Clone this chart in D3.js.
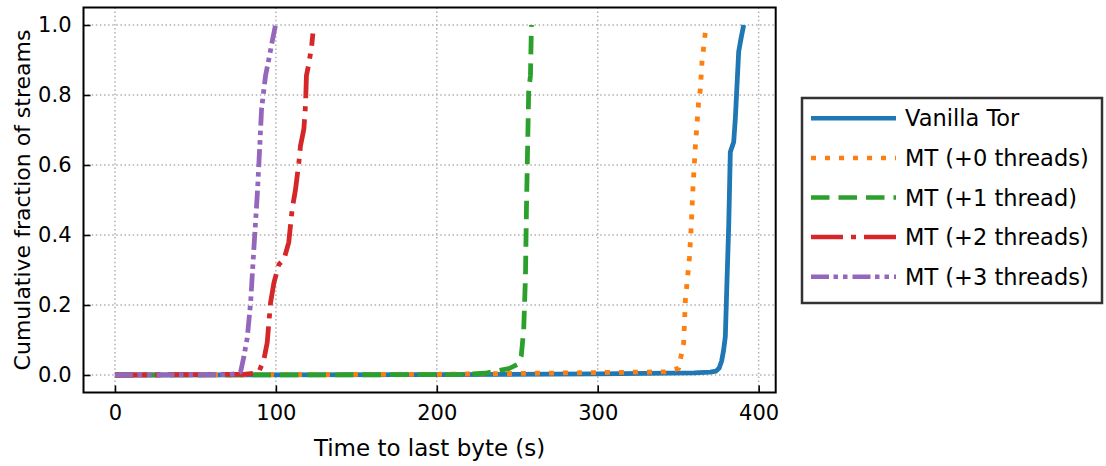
<!DOCTYPE html>
<html lang="en">
<head>
  <meta charset="UTF-8">
  <script src="https://d3js.org/d3.v7.min.js"></script>
  <title>TTLB CDF</title>
  <style>
    body { margin: 0; background: #fff; }
    text { font-family: "DejaVu Sans", sans-serif; fill: #000; }
  </style>
</head>
<body>
  <script>
    // series: time (s) and cumulative fraction
    const seriesNames = ["Vanilla Tor", "MT (+0 threads)", "MT (+1 thread)", "MT (+2 threads)", "MT (+3 threads)"];

    const vanillaTime = [0, 200, 300, 360, 370, 373.5, 375.5, 377, 378.2, 379.3, 380.3, 381.4, 382.4, 384.5, 385.5, 387.6, 389, 390.7];
    const vanillaFrac = [0, 0.001, 0.003, 0.006, 0.008, 0.011, 0.02, 0.04, 0.07, 0.11, 0.264, 0.426, 0.637, 0.666, 0.732, 0.924, 0.96, 1.0];

    const mt0Time = [0, 200, 300, 342, 350.3, 353.4, 354.5, 357, 358, 359.2, 360.7, 362.7, 363.8, 364.8, 366.9];
    const mt0Frac = [0, 0.002, 0.007, 0.009, 0.019, 0.092, 0.215, 0.336, 0.416, 0.537, 0.655, 0.78, 0.818, 0.895, 0.98];

    const mt1Time = [0, 215, 230, 237.5, 244.7, 250, 252.5, 254, 255.1, 255.7, 256.5, 257.1, 258.2, 258.8];
    const mt1Frac = [0, 0.001, 0.005, 0.012, 0.018, 0.03, 0.055, 0.129, 0.282, 0.473, 0.666, 0.81, 0.856, 1.0];

    const mt2Time = [0, 80, 86, 89.4, 92.5, 94.6, 96.7, 98.8, 101.9, 105, 108, 110.1, 112.2, 114.3, 115.3, 117.4, 118.4, 119, 120.5, 122.2, 123];
    const mt2Frac = [0, 0.002, 0.005, 0.009, 0.043, 0.092, 0.207, 0.264, 0.316, 0.33, 0.379, 0.473, 0.53, 0.608, 0.655, 0.703, 0.77, 0.856, 0.89, 0.938, 0.976];

    const mt3Time = [0, 70, 76, 78.1, 80.1, 82.2, 84.3, 86.3, 88.4, 89.9, 91.1, 93.6, 95.7, 97.7, 99.8];
    const mt3Frac = [0, 0.001, 0.004, 0.009, 0.052, 0.106, 0.207, 0.359, 0.512, 0.646, 0.76, 0.856, 0.904, 0.953, 1.0];

    const xTicks = [0, 100, 200, 300, 400];
    const yTicks = [0, 0.2, 0.4, 0.6, 0.8, 1.0];

    const colors = ["#1f77b4", "#ff7f0e", "#2ca02c", "#d62728", "#9467bd"];
    const dashes = [null, "5,9", "18.5,9", "32,8,5,8", "18,4.5,4.5,5,4.5,5"];

    const allTimes = [vanillaTime, mt0Time, mt1Time, mt2Time, mt3Time];
    const allFracs = [vanillaFrac, mt0Frac, mt1Frac, mt2Frac, mt3Frac];
    const series = seriesNames.map((name, i) => ({
      name,
      points: allTimes[i].map((t, j) => [t, allFracs[i][j]])
    }));

    const width = 1106, height = 466;
    const plot = { left: 83.5, right: 775.7, top: 7.5, bottom: 392.5 };

    const svg = d3.select("body").append("svg")
        .attr("width", width)
        .attr("height", height);

    /* Scales */
    const xScale = d3.scaleLinear().domain([-19.55, 410.6]).range([plot.left, plot.right]);
    const yScale = d3.scaleLinear().domain([-0.05, 1.05]).range([plot.bottom, plot.top]);

    // grid
    const grid = svg.append("g");
    grid.selectAll(".gx").data(xTicks).join("line")
        .attr("x1", d => xScale(d)).attr("x2", d => xScale(d))
        .attr("y1", plot.top).attr("y2", plot.bottom)
        .attr("stroke", "#b0b0b0").attr("stroke-width", 1.5).attr("stroke-dasharray", "1.5,2.6");
    grid.selectAll(".gy").data(yTicks).join("line")
        .attr("y1", d => yScale(d)).attr("y2", d => yScale(d))
        .attr("x1", plot.left).attr("x2", plot.right)
        .attr("stroke", "#b0b0b0").attr("stroke-width", 1.5).attr("stroke-dasharray", "1.5,2.6");

    // curves
    const line = d3.line().x(d => xScale(d[0])).y(d => yScale(d[1]));
    svg.append("defs").append("clipPath").attr("id", "clip")
      .append("rect").attr("x", plot.left).attr("y", plot.top)
      .attr("width", plot.right - plot.left).attr("height", plot.bottom - plot.top);

    svg.append("g").attr("clip-path", "url(#clip)")
      .selectAll("path").data(series).join("path")
        .attr("d", d => line(d.points))
        .attr("fill", "none")
        .attr("stroke", (d, i) => colors[i])
        .attr("stroke-width", 4.8)
        .attr("stroke-dasharray", (d, i) => dashes[i])
        .attr("stroke-linejoin", "round");

    // axes, ticks pointing inward
    const xAxis = svg.append("g")
        .attr("transform", `translate(0,${plot.bottom})`)
        .call(d3.axisBottom(xScale).tickValues(xTicks).tickSize(-7).tickPadding(13).tickFormat(d3.format("d")));
    const yAxis = svg.append("g")
        .attr("transform", `translate(${plot.left},0)`)
        .call(d3.axisLeft(yScale).tickValues(yTicks).tickSize(-7).tickPadding(12).tickFormat(d3.format(".1f")));
    [xAxis, yAxis].forEach(ax => {
      ax.select(".domain").remove();
      ax.selectAll(".tick line").attr("stroke", "#000").attr("stroke-width", 1.6);
      ax.selectAll(".tick text").style("font-size", "21px").attr("fill", "#000")
        .style("font-family", "'DejaVu Sans', sans-serif");
    });

    // frame
    svg.append("rect")
        .attr("x", plot.left).attr("y", plot.top)
        .attr("width", plot.right - plot.left).attr("height", plot.bottom - plot.top)
        .attr("fill", "none").attr("stroke", "#000").attr("stroke-width", 2);

    // axis titles
    svg.append("text")
        .attr("x", (plot.left + plot.right) / 2).attr("y", 456)
        .attr("text-anchor", "middle").style("font-size", "23px")
        .text("Time to last byte (s)");
    svg.append("text")
        .attr("transform", `translate(30,${(plot.top + plot.bottom) / 2}) rotate(-90)`)
        .attr("text-anchor", "middle").style("font-size", "22px")
        .text("Cumulative fraction of streams");

    // legend
    const legend = svg.append("g");
    legend.append("rect")
        .attr("x", 802).attr("y", 98).attr("width", 300).attr("height", 205)
        .attr("fill", "#fff").attr("stroke", "#333").attr("stroke-width", 2.5);
    const rows = legend.selectAll(".row").data(series).join("g")
        .attr("transform", (d, i) => `translate(0,${118.3 + i * 39.6})`);
    rows.append("line")
        .attr("x1", 811).attr("x2", 896)
        .attr("stroke", (d, i) => colors[i])
        .attr("stroke-width", 4.5)
        .attr("stroke-dasharray", (d, i) => dashes[i]);
    rows.append("text")
        .attr("x", 905).attr("dy", "0.36em")
        .style("font-size", "22.5px")
        .text(d => d.name);
  </script>
</body>
</html>
